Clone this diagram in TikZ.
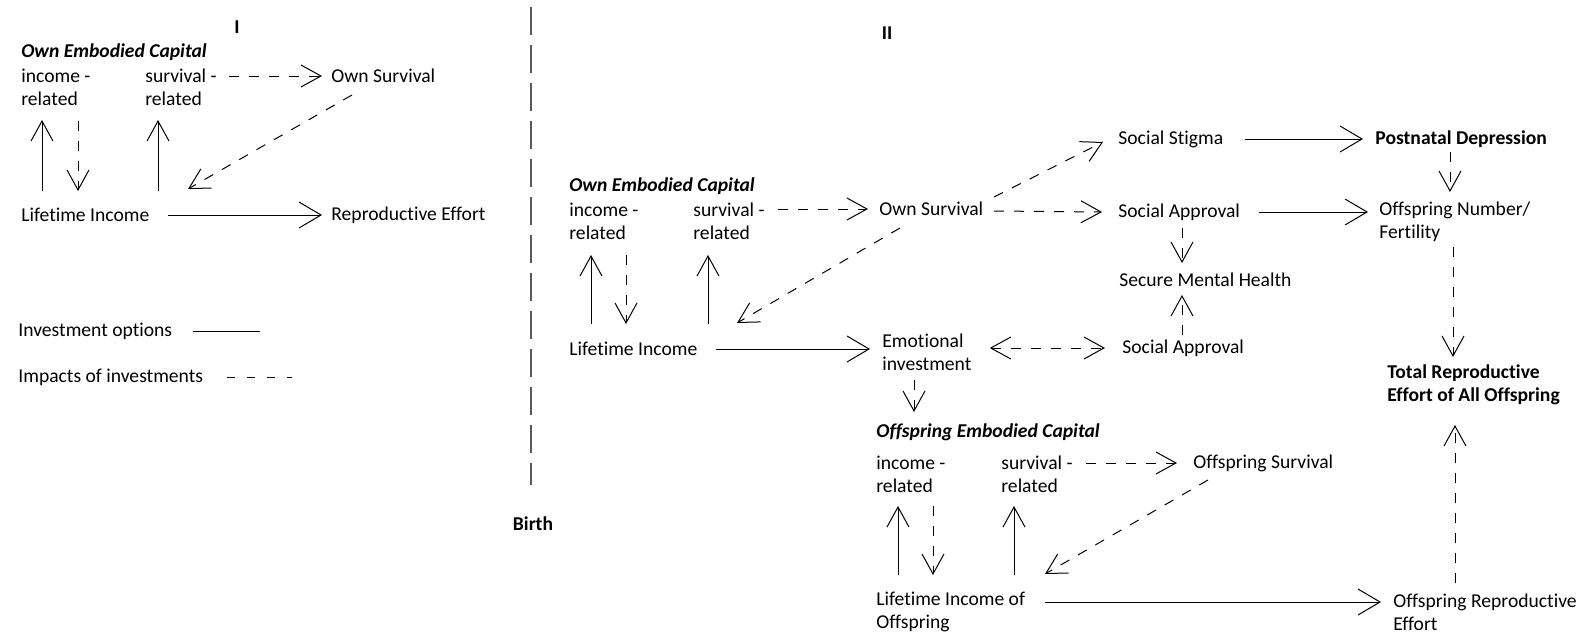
\documentclass[tikz,border=0pt]{standalone}
\usepackage{fontspec}
\setmainfont{Carlito}[Ligatures=NoCommon]
\usetikzlibrary{arrows.meta,calc}

\begin{document}
\begin{tikzpicture}[x=0.5pt,y=-0.5pt,>={Straight Barb[length=10pt,width=11pt]},
    every node/.style={font=\fontsize{9.8}{11.5}\selectfont,inner sep=0pt},
    lbl/.style={anchor=west,align=left},
    head/.style={lbl,font=\fontsize{9.8}{11.5}\selectfont\bfseries\itshape},
    inv/.style={draw,line width=0.5pt,->},
    big/.style={>={Straight Barb[length=11pt,width=13pt]}},
    imp/.style={inv,dash pattern=on 5pt off 5pt},
    divider/.style={draw,line width=1pt,black!65,dash pattern=on 14pt off 5pt}]
  \useasboundingbox (0,0) rectangle (1586,637);

  % part I
  \node[font=\fontsize{9.8}{11.5}\selectfont\bfseries] (partI) at (237,27) {I};
  \node[head] (ec1) at (21,52) {Own Embodied Capital};
  \node[lbl] (inc1) at (21,87) {income -\\related};
  \node[lbl] (sur1) at (145,87) {survival -\\related};
  \node[lbl] (os1) at (331,76) {Own Survival};
  \node[lbl] (li1) at (21,215) {Lifetime Income};
  \node[lbl] (re1) at (331,215) {Reproductive Effort};
  \node[lbl] (leg1) at (18,331) {Investment options};
  \node[lbl] (leg2) at (18,377) {Impacts of investments};
  \coordinate (legend end) at (260,332);

  \draw[inv] ($(li1.west)+(21,-24)$) -- ($(inc1.west)+(21,33)$);
  \draw[imp] ($(inc1.west)+(57,34)$) -- ($(li1.west)+(57,-24)$);
  \draw[inv] ($(li1.west)+(137,-24)$) -- ($(sur1.west)+(13,33)$);
  \draw[imp,shorten <=6pt,shorten >=4.5pt] (sur1.east |- os1.west) -- (os1.west);
  \draw[imp] ($(os1.west)+(21,19)$) -- ($(li1.west)+(167,-26)$);
  \draw[inv,big,shorten <=9pt,shorten >=4.5pt] (li1.east) -- (re1.west);
  \draw[line width=0.5pt,shorten <=10pt] (leg1.east) -- (leg1.east -| legend end);
  \draw[line width=0.5pt,dash pattern=on 4pt off 6pt,shorten <=12pt]
       (leg2.east) -- ($(leg2.east -| legend end)+(32,0)$);

  % birth line
  \coordinate (div top) at (531,7);
  \coordinate (div bottom) at (531,485);
  \node[font=\fontsize{9.8}{11.5}\selectfont\bfseries] (birth) at (533,524) {Birth};
  \draw[divider] (div top) -- (div bottom);

  % part II
  \node[font=\fontsize{9.8}{11.5}\selectfont\bfseries] (partII) at (887,33) {II};
  \node[head] (ec2) at (569,186) {Own Embodied Capital};
  \node[lbl] (inc2) at (569,221) {income -\\related};
  \node[lbl] (sur2) at (693,221) {survival -\\related};
  \node[lbl] (os2) at (879,209) {Own Survival};
  \node[lbl] (li2) at (569,349) {Lifetime Income};
  \node[lbl] (emo) at (882,352) {Emotional\\investment};
  \node[lbl] (stig) at (1118,139) {Social Stigma};
  \node[lbl,font=\fontsize{9.8}{11.5}\selectfont\bfseries] (pnd) at (1375,139) {Postnatal Depression};
  \node[lbl] (sap1) at (1118,212) {Social Approval};
  \node[lbl] (onf) at (1379,222) {Offspring Number/\\Fertility};
  \node[lbl] (smh) at (1119,280) {Secure Mental Health};
  \node[lbl] (sap2) at (1122,348) {Social Approval};
  \node[lbl,font=\fontsize{9.8}{11.5}\selectfont\bfseries] (tre) at (1387,385)
       {Total Reproductive\\Effort of All Offspring};
  \node[head] (ec3) at (876,432) {Offspring Embodied Capital};
  \node[lbl] (inc3) at (876,474) {income -\\related};
  \node[lbl] (sur3) at (1001,474) {survival -\\related};
  \node[lbl] (osv) at (1193,463) {Offspring Survival};
  \node[lbl] (li3) at (876,612) {Lifetime Income of\\Offspring};
  \node[lbl] (ore) at (1393,612) {Offspring Reproductive\\Effort};

  \draw[inv] ($(li2.west)+(22,-25)$) -- ($(inc2.west)+(22,34)$);
  \draw[imp] ($(inc2.west)+(57,34)$) -- ($(li2.west)+(57,-25)$);
  \draw[inv] ($(li2.west)+(139,-25)$) -- ($(sur2.west)+(15,34)$);
  \draw[imp,shorten <=6.5pt,shorten >=5.5pt] (sur2.east |- os2.west) -- (os2.west);
  \draw[imp] ($(os2.west)+(21,19)$) -- ($(li2.west)+(168,-26)$);
  \draw[inv,big,shorten <=9pt,shorten >=6pt] (li2.east) -- (li2.east -| emo.west);
  \draw[imp,<->,shorten <=9pt,shorten >=8.5pt] (emo.east |- sap2.west) -- (sap2.west);
  \draw[imp] ($(emo.west)+(32,28)$) -- ($(ec3.west)+(38,-20)$);
  \draw[imp] ($(os2.west)+(115,-12)$) -- ($(stig.west)+(-15,3)$);
  \draw[imp] ($(os2.west)+(115,2)$) -- ($(sap1.west)+(-16,0)$);
  \draw[inv,big,shorten <=10.5pt,shorten >=6pt] (stig.east) -- (pnd.west);
  \draw[inv,big,shorten <=9.5pt,shorten >=5.5pt] (sap1.east) -- (sap1.east -| onf.west);
  \draw[imp] ($(pnd.west)+(75,13)$) -- ($(onf.west)+(71,-30)$);
  \draw[imp] ($(sap1.west)+(64,16)$) -- ($(smh.west)+(63,-17)$);
  \draw[imp] ($(sap2.west)+(60,-13)$) -- ($(smh.west)+(63,15)$);
  \draw[imp] ($(onf.west)+(74,25)$) -- ($(tre.west)+(66,-28)$);
  \draw[imp] ($(ore.west)+(62,-29)$) -- ($(tre.west)+(68,40)$);
  \draw[imp,shorten <=6.5pt,shorten >=8pt] (sur3.east |- osv.west) -- (osv.west);
  \draw[inv] ($(li3.west)+(22,-37)$) -- ($(inc3.west)+(22,32)$);
  \draw[imp] ($(inc3.west)+(57,32)$) -- ($(li3.west)+(57,-37)$);
  \draw[inv] ($(li3.west)+(138,-37)$) -- ($(sur3.west)+(13,32)$);
  \draw[imp] ($(osv.west)+(15,17)$) -- ($(li3.west)+(169,-38)$);
  \draw[inv,big] ($(li3.west)+(169,-10)$) -- ($(ore.west)+(-12,-10)$);
\end{tikzpicture}
\end{document}
